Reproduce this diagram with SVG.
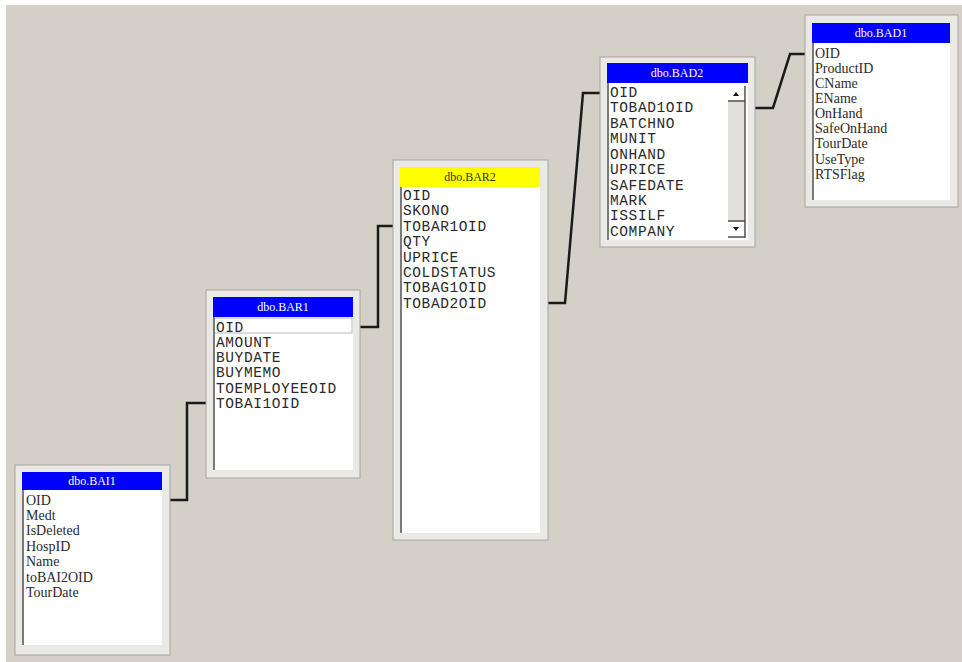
<svg xmlns="http://www.w3.org/2000/svg" width="962" height="662" viewBox="0 0 962 662">
<style>
.frame{fill:#ebe9e5;stroke:#a8a49e;stroke-width:1}
.panel{fill:#ffffff}
.lb{stroke:#7a7a7a;stroke-width:2}
.hb{fill:#0000ff}
.hy{fill:#ffff00}
.ht{font-family:"Liberation Serif",serif;font-size:12px;fill:#ffffff;text-anchor:middle}
.hty{font-family:"Liberation Serif",serif;font-size:12px;fill:#333300;text-anchor:middle}
.rs{font-family:"Liberation Serif",serif;font-size:14px;fill:#2a2a2a}
.rm{font-family:"Liberation Mono",monospace;font-size:14.5px;fill:#2a2a2a;letter-spacing:0.6px}
.conn{fill:none;stroke:#1a1a1a;stroke-width:2.5}
</style>
<rect x="0" y="0" width="962" height="662" fill="#ffffff"/>
<rect x="6" y="5" width="956" height="657" fill="#d4d0c8"/>

<g id="connectors">
<polyline class="conn" points="170,500 187,500 187,403 206,403"/>
<polyline class="conn" points="360,327 378,327 378,226 393,226"/>
<polyline class="conn" points="548,303 565,303 583,93 602,93"/>
<polyline class="conn" points="755,108 773,108 790,54 806,54"/>
</g>

<g id="dbo.BAI1">
<rect class="frame" x="15" y="465" width="155" height="190"/>
<rect class="panel" x="22" y="490" width="140" height="155"/>
<line class="lb" x1="23" y1="490" x2="23" y2="645"/>
<rect class="hb" x="22" y="472" width="140" height="18"/>
<text class="ht" x="92" y="485">dbo.BAI1</text>
<text class="rs" x="26" y="505">OID</text>
<text class="rs" x="26" y="520">Medt</text>
<text class="rs" x="26" y="535">IsDeleted</text>
<text class="rs" x="26" y="551">HospID</text>
<text class="rs" x="26" y="566">Name</text>
<text class="rs" x="26" y="582">toBAI2OID</text>
<text class="rs" x="26" y="597">TourDate</text>
</g>

<g id="dbo.BAR1">
<rect class="frame" x="206" y="290" width="154" height="188"/>
<rect class="panel" x="213" y="317" width="140" height="153"/>
<rect x="214" y="318" width="138" height="15" fill="#ffffff" stroke="#b8b8b8" stroke-width="1"/>
<line class="lb" x1="214" y1="317" x2="214" y2="470"/>
<rect class="hb" x="213" y="297" width="140" height="20"/>
<text class="ht" x="283" y="311">dbo.BAR1</text>
<text class="rm" x="216" y="332">OID</text>
<text class="rm" x="216" y="347">AMOUNT</text>
<text class="rm" x="216" y="362">BUYDATE</text>
<text class="rm" x="216" y="377">BUYMEMO</text>
<text class="rm" x="216" y="393">TOEMPLOYEEOID</text>
<text class="rm" x="216" y="408">TOBAI1OID</text>
</g>

<g id="dbo.BAR2">
<rect class="frame" x="393" y="160" width="155" height="380"/>
<rect class="panel" x="400" y="187" width="140" height="346"/>
<line class="lb" x1="401" y1="187" x2="401" y2="533"/>
<rect class="hy" x="400" y="167" width="140" height="20"/>
<text class="hty" x="470" y="181">dbo.BAR2</text>
<text class="rm" x="403" y="200">OID</text>
<text class="rm" x="403" y="215">SKONO</text>
<text class="rm" x="403" y="231">TOBAR1OID</text>
<text class="rm" x="403" y="246">QTY</text>
<text class="rm" x="403" y="262">UPRICE</text>
<text class="rm" x="403" y="277">COLDSTATUS</text>
<text class="rm" x="403" y="292">TOBAG1OID</text>
<text class="rm" x="403" y="308">TOBAD2OID</text>
</g>

<g id="dbo.BAD2">
<rect class="frame" x="600" y="57" width="155" height="190"/>
<rect class="panel" x="607" y="83" width="141" height="157"/>
<line class="lb" x1="608" y1="83" x2="608" y2="240"/>
<rect class="hb" x="607" y="63" width="141" height="20"/>
<text class="ht" x="677" y="77">dbo.BAD2</text>
<rect x="728" y="86" width="17" height="152" fill="#e2e0dc"/>
<rect x="728" y="86" width="16" height="14" fill="#ffffff"/>
<rect x="728" y="222" width="16" height="15" fill="#ffffff"/>
<line x1="728" y1="101" x2="745" y2="101" stroke="#555" stroke-width="1.5"/>
<line x1="728" y1="221" x2="745" y2="221" stroke="#555" stroke-width="1.5"/>
<line x1="745" y1="86" x2="745" y2="238" stroke="#555" stroke-width="1.5"/>
<line x1="728" y1="237" x2="745" y2="237" stroke="#555" stroke-width="1.5"/>
<polygon points="733,96 736,92 739,96" fill="#111"/>
<polygon points="733,227 739,227 736,231" fill="#111"/>
<text class="rm" x="610" y="97">OID</text>
<text class="rm" x="610" y="112">TOBAD1OID</text>
<text class="rm" x="610" y="128">BATCHNO</text>
<text class="rm" x="610" y="143">MUNIT</text>
<text class="rm" x="610" y="159">ONHAND</text>
<text class="rm" x="610" y="174">UPRICE</text>
<text class="rm" x="610" y="190">SAFEDATE</text>
<text class="rm" x="610" y="205">MARK</text>
<text class="rm" x="610" y="220">ISSILF</text>
<text class="rm" x="610" y="236">COMPANY</text>
</g>

<g id="dbo.BAD1">
<rect class="frame" x="805" y="15" width="153" height="192"/>
<rect class="panel" x="812" y="43" width="138" height="157"/>
<line class="lb" x1="813" y1="43" x2="813" y2="200"/>
<rect class="hb" x="812" y="23" width="138" height="20"/>
<text class="ht" x="881" y="37">dbo.BAD1</text>
<text class="rs" x="815" y="58">OID</text>
<text class="rs" x="815" y="73">ProductID</text>
<text class="rs" x="815" y="88">CName</text>
<text class="rs" x="815" y="103">EName</text>
<text class="rs" x="815" y="118">OnHand</text>
<text class="rs" x="815" y="133">SafeOnHand</text>
<text class="rs" x="815" y="148">TourDate</text>
<text class="rs" x="815" y="164">UseType</text>
<text class="rs" x="815" y="179">RTSFlag</text>
</g>
</svg>
